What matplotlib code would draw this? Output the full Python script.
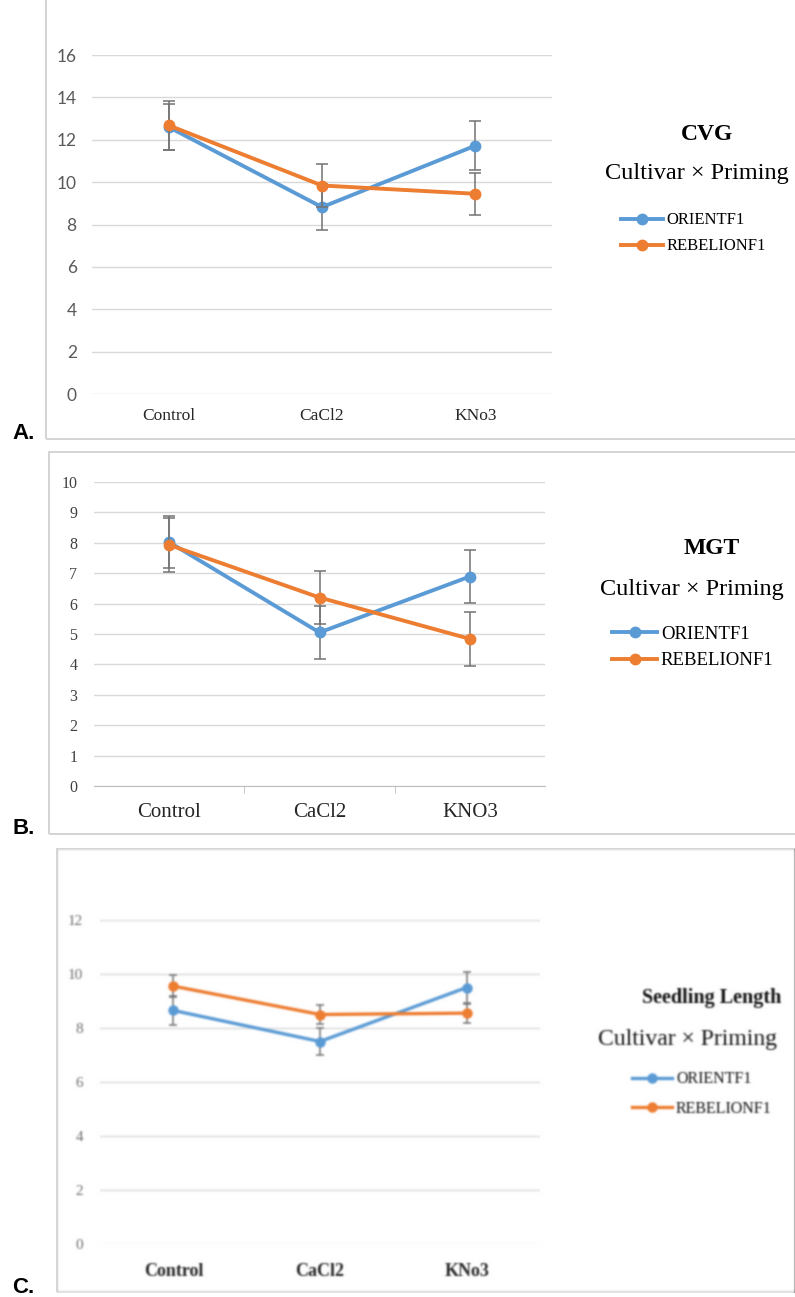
import numpy as np
import matplotlib
matplotlib.use("Agg")
import matplotlib.pyplot as plt
from matplotlib.patches import Rectangle

W, H = 795, 1297

treatments_a = ["Control", "CaCl2", "KNo3"]
treatments_b = ["Control", "CaCl2", "KNO3"]
treatments_c = ["Control", "CaCl2", "KNo3"]
cultivars = ["ORIENTF1", "REBELIONF1"]

# CVG
cvg_orient = [12.6, 8.82, 11.72]
cvg_orient_err = [1.1, 1.08, 1.15]
cvg_rebelion = [12.68, 9.84, 9.45]
cvg_rebelion_err = [1.15, 1.03, 0.98]

# MGT
mgt_orient = [8.02, 5.05, 6.89]
mgt_orient_err = [0.85, 0.87, 0.88]
mgt_rebelion = [7.93, 6.2, 4.84]
mgt_rebelion_err = [0.9, 0.88, 0.9]

# Seedling length
sl_orient = [8.65, 7.5, 9.5]
sl_orient_err = [0.55, 0.5, 0.57]
sl_rebelion = [9.55, 8.5, 8.55]
sl_rebelion_err = [0.4, 0.35, 0.35]

BLUE = "#5B9BD5"
ORANGE = "#ED7D31"
ERR = "#737373"
GRID = "#d9d9d9"
SERIF = "Liberation Serif"


def fx(x):
    return x / W


def fy(y):
    return 1 - y / H


def box_axes(fig, x0, y0, x1, y1):
    return fig.add_axes([fx(x0), fy(y1), (x1 - x0) / W, (y1 - y0) / H])


def frame(fig, x0, y0, x1, y1):
    fig.add_artist(Rectangle((fx(x0), fy(y1)), (x1 - x0) / W, (y1 - y0) / H,
                             transform=fig.transFigure, fill=False,
                             edgecolor="#d4d4d4", lw=1.4))


def draw_panel(ax, cats, s1, e1, s2, e2, ymax, ystep, lw, ms, cap):
    x = np.arange(len(cats))
    ax.errorbar(x, s1, yerr=e1, fmt="none", ecolor=ERR, elinewidth=1.1,
                capsize=cap, capthick=1.1, zorder=2)
    l1, = ax.plot(x, s1, "-o", color=BLUE, lw=lw, ms=ms, zorder=3)
    ax.errorbar(x, s2, yerr=e2, fmt="none", ecolor=ERR, elinewidth=1.1,
                capsize=cap, capthick=1.1, zorder=4)
    l2, = ax.plot(x, s2, "-o", color=ORANGE, lw=lw, ms=ms, zorder=5)
    ax.set_xlim(-0.5, len(cats) - 0.5)
    ax.set_ylim(0, ymax)
    ax.set_yticks(np.arange(0, ymax + 0.01, ystep))
    ax.set_xticks(x)
    ax.set_xticklabels(cats)
    ax.grid(axis="y", color=GRID, lw=1.0)
    ax.set_axisbelow(True)
    for s in ax.spines.values():
        s.set_visible(False)
    ax.tick_params(length=0)
    return l1, l2


def legend(fig, ax, handles, xleft, ymid, size, hl, pad, spacing, color="black"):
    leg = ax.legend(handles, cultivars, loc="center left",
                    bbox_to_anchor=(fx(xleft), fy(ymid)), bbox_transform=fig.transFigure,
                    frameon=False, borderpad=0, borderaxespad=0,
                    handlelength=hl, handletextpad=pad, labelspacing=spacing,
                    prop={"family": SERIF, "size": size})
    for t in leg.get_texts():
        t.set_color(color)


fig = plt.figure(figsize=(W / 100, H / 100), dpi=100)

# ---- A. CVG ----
frame(fig, 46, -5, 805, 439)
ax = box_axes(fig, 92, 55, 552, 394)
h = draw_panel(ax, treatments_a, cvg_orient, cvg_orient_err, cvg_rebelion,
               cvg_rebelion_err, 16, 2, 2.8, 7.5, 4)
for t in ax.get_yticklabels():
    t.set_fontfamily("Lato")
    t.set_fontsize(12.5)
    t.set_color("#595959")
for t in ax.get_xticklabels():
    t.set_fontfamily(SERIF)
    t.set_fontsize(12.5)
    t.set_color("#262626")
ax.tick_params(axis="y", pad=11)
ax.tick_params(axis="x", pad=10)
fig.text(fx(707), fy(134), "CVG", ha="center", va="center",
         fontfamily=SERIF, fontweight="bold", fontsize=17)
fig.text(fx(697), fy(173), "Cultivar \u00d7 Priming", ha="center", va="center",
         fontfamily=SERIF, fontsize=17.5)
legend(fig, ax, h, 621, 233.5, 12, 2.5, 0.25, 0.6)

# ---- B. MGT ----
frame(fig, 49, 452, 805, 834)
ax = box_axes(fig, 94, 482, 545, 786)
h = draw_panel(ax, treatments_b, mgt_orient, mgt_orient_err, mgt_rebelion,
               mgt_rebelion_err, 10, 1, 2.8, 7.5, 4)
ax.spines["bottom"].set_visible(True)
ax.spines["bottom"].set_color("#bfbfbf")
ax.set_xticks([0.5, 1.5], minor=True)
ax.tick_params(axis="x", which="minor", length=5, color="#bfbfbf", direction="out")
for t in ax.get_yticklabels():
    t.set_fontfamily(SERIF)
    t.set_fontsize(11.5)
    t.set_color("#404040")
for t in ax.get_xticklabels():
    t.set_fontfamily(SERIF)
    t.set_fontsize(15)
    t.set_color("#262626")
ax.tick_params(axis="y", pad=12)
ax.tick_params(axis="x", which="major", pad=12)
fig.text(fx(712), fy(548), "MGT", ha="center", va="center",
         fontfamily=SERIF, fontweight="bold", fontsize=17)
fig.text(fx(692), fy(589), "Cultivar \u00d7 Priming", ha="center", va="center",
         fontfamily=SERIF, fontsize=17.5)
legend(fig, ax, h, 612, 647.5, 13.5, 2.4, 0.2, 0.5)

# ---- C. Seedling length ----
frame(fig, 57, 849, 805, 1292)
ax = box_axes(fig, 100, 920, 540, 1244)
h = draw_panel(ax, treatments_c, sl_orient, sl_orient_err, sl_rebelion,
               sl_rebelion_err, 12, 2, 2.4, 6.5, 3)
for t in ax.get_yticklabels():
    t.set_fontfamily(SERIF)
    t.set_fontsize(11)
    t.set_color("#6e6e6e")
for t in ax.get_xticklabels():
    t.set_fontfamily(SERIF)
    t.set_fontweight("bold")
    t.set_fontsize(13)
    t.set_color("#262626")
ax.tick_params(axis="y", pad=12)
ax.tick_params(axis="x", pad=14)
fig.text(fx(712), fy(998), "Seedling Length", ha="center", va="center",
         fontfamily=SERIF, fontweight="bold", fontsize=14.5, color="#111111")
fig.text(fx(688), fy(1039), "Cultivar \u00d7 Priming", ha="center", va="center",
         fontfamily=SERIF, fontsize=17, color="#111111")
legend(fig, ax, h, 632, 1094, 11.5, 2.5, 0.25, 0.85, color="#111111")

# panel letters
for lab, yb in [("A.", 439), ("B.", 834), ("C.", 1293)]:
    fig.text(fx(12), fy(yb), lab, ha="left", va="baseline",
             fontfamily="Liberation Sans", fontweight="bold", fontsize=16)

# render, then soften the lower panel which comes from a low-resolution scan
fig.canvas.draw()
img = np.asarray(fig.canvas.buffer_rgba()).astype(float) / 255.0
sigma = 0.9
k = np.arange(-4, 5)
kern = np.exp(-k ** 2 / (2 * sigma ** 2))
kern /= kern.sum()
part = img[845:, 50:, :3]
part = np.apply_along_axis(lambda v: np.convolve(v, kern, mode="same"), 0, part)
part = np.apply_along_axis(lambda v: np.convolve(v, kern, mode="same"), 1, part)
img[849:1293, 58:, :3] = part[4:448, 8:, :]
plt.imsave("out.png", np.clip(img, 0, 1))
